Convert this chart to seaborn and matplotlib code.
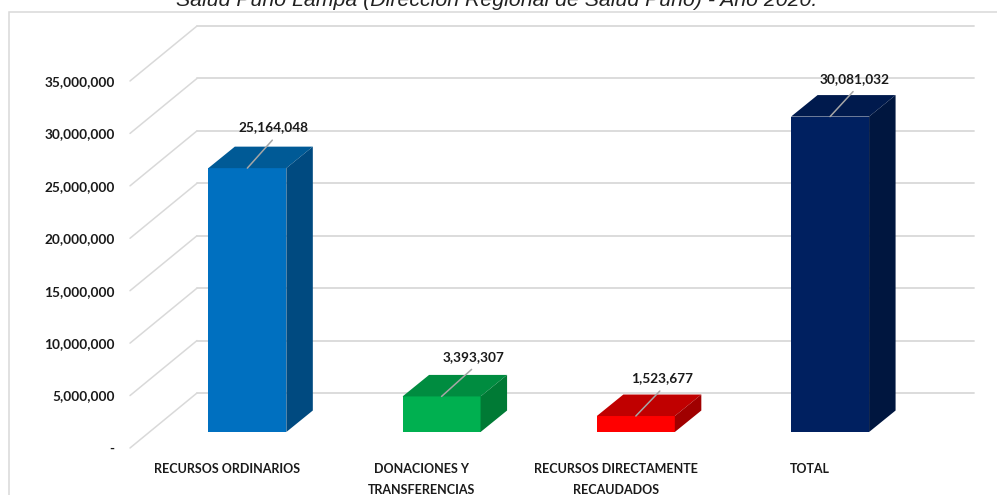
import matplotlib
matplotlib.use("Agg")
import matplotlib.pyplot as plt
import matplotlib.patches as mpatches
import seaborn as sns

# ------------------------------
# data
# ------------------------------
categorias = ["RECURSOS ORDINARIOS", "DONACIONES Y\nTRANSFERENCIAS",
              "RECURSOS DIRECTAMENTE\nRECAUDADOS", "TOTAL"]
valores = [25164048, 3393307, 1523677, 30081032]
etiquetas = ["25,164,048", "3,393,307", "1,523,677", "30,081,032"]
ticks = [0, 5000000, 10000000, 15000000, 20000000, 25000000, 30000000, 35000000]
tick_labels = ["-", "5,000,000", "10,000,000", "15,000,000", "20,000,000",
               "25,000,000", "30,000,000", "35,000,000"]

col_front = ["#0070C0", "#00B050", "#FF0000", "#002060"]
col_top = ["#005A96", "#008C40", "#C00000", "#001A4D"]
col_side = ["#004A80", "#007A35", "#A00000", "#00163F"]

# leader end and label centre, in pixels from the middle of each bar top
leader_dx = [25, 30, 24, 23]
leader_dy = [28, 27, 25, 25]
label_dx = [26, 32, 26, 25]
label_dy = [41, 39, 38, 38]

titulo = "Salud Puno Lampa (Dirección Regional de Salud Puno) - Año 2020."

W, H = 997, 495
sns.set_theme(style="white")
plt.rcParams["font.family"] = ["Lato", "DejaVu Sans"]

fig = plt.figure(figsize=(W / 100, H / 100), dpi=100)
ax = fig.add_axes([130 / W, 1 - 448 / H, 777 / W, 367 / H])

# pixels -> data units
px_x = 4 / 777
px_y = 35000000 / 367

# depth of the 3d floor and of the bars
depth_x = 67 * px_x
depth_y = 55 * px_y
bar_x = 20.2 * px_x
bar_y = 16 * px_y
side_x = 26.5 * px_x
side_y = 21.5 * px_y
ancho = 78 * px_x

# walls
for t in ticks:
    ax.plot([-0.5, -0.5 + depth_x], [t, t + depth_y], color="#D9D9D9", lw=1.1, clip_on=False, zorder=1)
    ax.plot([-0.5 + depth_x, 3.5 + depth_x], [t + depth_y, t + depth_y], color="#D9D9D9", lw=1.3,
            clip_on=False, zorder=1)

# front faces
sns.barplot(x=categorias, y=valores, hue=categorias, palette=col_front, width=ancho,
            bottom=bar_y, dodge=False, legend=False, saturation=1, linewidth=0, ax=ax, zorder=3)

for i, p in enumerate(ax.patches):
    p.set_x(p.get_x() + bar_x)
    p.set_clip_on(False)
    x0 = p.get_x()
    x1 = x0 + ancho
    y0 = bar_y
    y1 = bar_y + valores[i]
    # top face
    ax.add_patch(mpatches.Polygon([(x0, y1), (x1, y1), (x1 + side_x, y1 + side_y), (x0 + side_x, y1 + side_y)],
                                  closed=True, fc=col_top[i], ec="none", clip_on=False, zorder=3))
    # side face
    ax.add_patch(mpatches.Polygon([(x1, y0), (x1, y1), (x1 + side_x, y1 + side_y), (x1 + side_x, y0 + side_y)],
                                  closed=True, fc=col_side[i], ec="none", clip_on=False, zorder=3))
    # leader and value
    xc = (x0 + x1) / 2
    ax.plot([xc, xc + leader_dx[i] * px_x], [y1, y1 + leader_dy[i] * px_y], color="#A6A6A6", lw=1.1,
            clip_on=False, zorder=4)
    ax.text(xc + label_dx[i] * px_x, y1 + label_dy[i] * px_y, etiquetas[i], ha="center", va="center",
            fontsize=9.8, fontweight="bold", color="#1a1a1a", zorder=5)

ax.set_xlim(-0.5, 3.5)
ax.set_ylim(0, 35000000)
ax.set_yticks(ticks)
ax.set_yticklabels(tick_labels, fontsize=9.8, fontweight="bold", color="#1a1a1a")
ax.tick_params(axis="both", length=0)
ax.tick_params(axis="y", pad=11)
ax.tick_params(axis="x", pad=10.5)
ax.set_xticks(range(4))
ax.set_xticklabels(categorias, fontsize=9, fontweight="bold", color="#1a1a1a", linespacing=1.95)
ax.set_xlabel("")
ax.patch.set_alpha(0)
sns.despine(ax=ax, left=True, bottom=True)

# chart frame, it runs off the picture on the right and at the bottom
fig.add_artist(plt.Rectangle((9 / W, -0.05), 1.05, 1 - 12 / H + 0.05, fc="none", ec="#D9D9D9", lw=1.1,
                             transform=fig.transFigure))
fig.text(497 / W, 1 - 0 / H, titulo, ha="center", va="center", fontsize=15.3, fontstyle="italic",
         family=["Liberation Sans", "DejaVu Sans"], color="#222222")

fig.savefig("out.png", dpi=100)
